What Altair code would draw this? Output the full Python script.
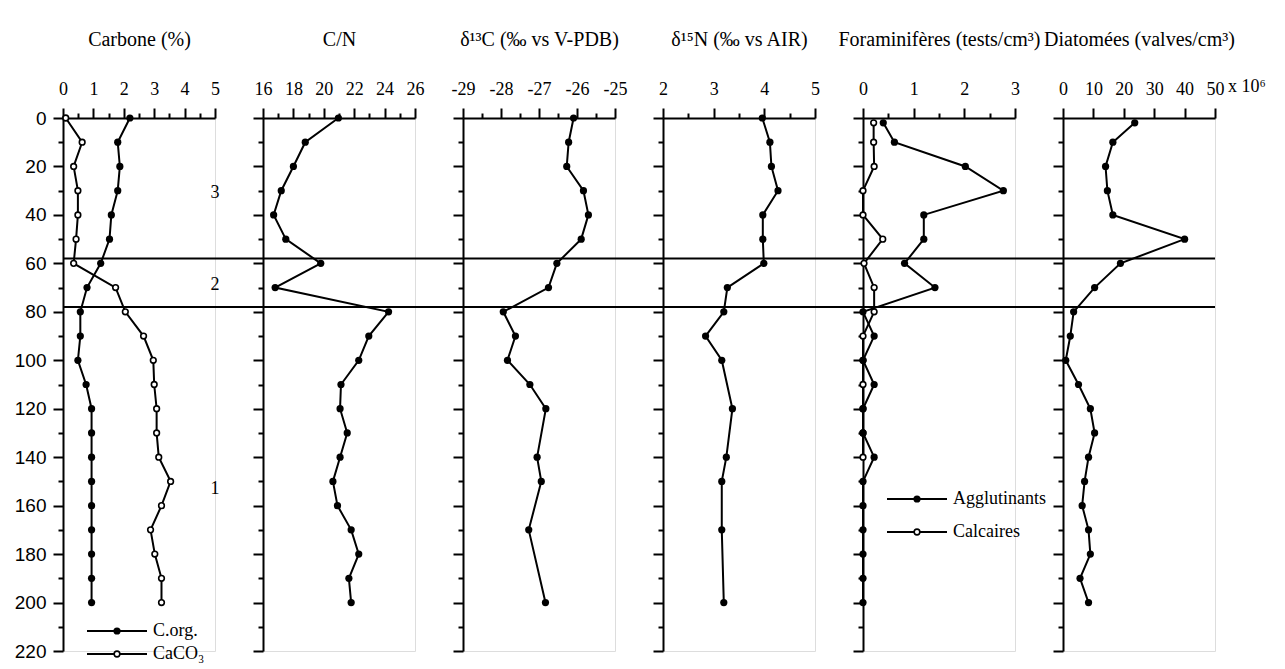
import altair as alt
import pandas as pd

# ---------------- data ----------------
depth = [0, 10, 20, 30, 40, 50, 60, 70, 80, 90, 100, 110, 120, 130, 140, 150, 160, 170, 180, 190, 200]
c_org = [2.2, 1.8, 1.87, 1.8, 1.59, 1.53, 1.24, 0.79, 0.57, 0.57, 0.49, 0.76, 0.94, 0.94, 0.94, 0.94, 0.94, 0.94, 0.94, 0.94, 0.94]
caco3 = [0.09, 0.63, 0.35, 0.49, 0.49, 0.43, 0.35, 1.73, 2.05, 2.65, 2.97, 3.0, 3.08, 3.08, 3.15, 3.54, 3.24, 2.88, 3.02, 3.24, 3.24]
cn_ratio = [20.96, 18.78, 18.0, 17.2, 16.7, 17.5, 19.8, 16.8, 24.26, 22.96, 22.3, 21.13, 21.07, 21.54, 21.07, 20.6, 20.9, 21.8, 22.3, 21.65, 21.8]

d13c_depth = [0, 10, 20, 30, 40, 50, 60, 70, 80, 90, 100, 110, 120, 140, 150, 170, 200]
d13c = [-26.09, -26.22, -26.27, -25.83, -25.70, -25.89, -26.53, -26.75, -27.94, -27.62, -27.83, -27.24, -26.82, -27.05, -26.94, -27.27, -26.83]

d15n_depth = [0, 10, 20, 30, 40, 50, 60, 70, 80, 90, 100, 120, 140, 150, 170, 200]
d15n = [3.96, 4.11, 4.14, 4.27, 3.97, 3.97, 3.99, 3.27, 3.20, 2.84, 3.16, 3.37, 3.25, 3.16, 3.16, 3.20]

foram_depth = [2, 10, 20, 30, 40, 50, 60, 70, 80, 90, 100, 110, 120, 130, 140, 150, 160, 170, 180, 190, 200]
agglutinants = [0.40, 0.62, 2.02, 2.77, 1.20, 1.20, 0.82, 1.42, 0.0, 0.22, 0.0, 0.22, 0.0, 0.0, 0.22, 0.0, 0.0, 0.0, 0.0, 0.0, 0.0]
calc_depth = [2, 10, 20, 30, 40, 50, 60, 70, 80, 90, 100, 110, 120, 130, 140]
calcaires = [0.21, 0.21, 0.22, 0.0, 0.0, 0.39, 0.02, 0.22, 0.22, 0.0, 0.0, 0.0, 0.0, 0.0, 0.0]

diatom_depth = [2, 10, 20, 30, 40, 50, 60, 70, 80, 90, 100, 110, 120, 130, 140, 150, 160, 170, 180, 190, 200]
diatoms = [23.6, 16.4, 14.0, 14.6, 16.4, 40.0, 18.9, 10.4, 3.5, 2.4, 0.9, 5.1, 9.0, 10.4, 8.4, 7.1, 6.3, 8.4, 9.0, 5.6, 8.4]

zone_limits = [58, 78]
zone_names = ["3", "2", "1"]
zone_label_depth = [31, 69, 153]

titles = ["Carbone (%)", "C/N", "δ¹³C (‰ vs V-PDB)", "δ¹⁵N (‰ vs AIR)",
          "Foraminifères (tests/cm³)", "Diatomées (valves/cm³)"]

# ---------------- layout / style ----------------
W, H, GAP = 152, 533, 48
SERIF = "Liberation Serif"
SANS = "Liberation Sans"

ysc = alt.Scale(domain=[0, 220], reverse=True, nice=False, zero=False)


def y_axis(show_labels):
    return alt.Axis(
        orient="left", values=list(range(0, 221, 10)),
        tickSize={"condition": {"test": "datum.value % 20 === 0", "value": 10}, "value": 5},
        tickWidth=2, tickColor="black", domainWidth=2, domainColor="black",
        grid=False, title=None, labels=show_labels, labelFont=SANS, labelFontSize=19,
        labelColor="black", labelPadding=7, labelOverlap=False,
        labelExpr="datum.value % 20 === 0 ? datum.label : ''")


def x_axis(title, values, major_test):
    return alt.Axis(
        orient="top", values=values, title=title,
        tickSize={"condition": {"test": major_test, "value": 10}, "value": 5},
        tickWidth=2, tickColor="black", domainWidth=2, domainColor="black",
        grid=False, labelFont=SERIF, labelFontSize=18, labelColor="black",
        labelPadding=10, labelFlush=False, labelOverlap=False, labelAngle=0,
        labelExpr="(" + major_test + ") ? '' + datum.value : ''",
        titleFont=SERIF, titleFontSize=20, titleFontWeight="normal",
        titleColor="black", titlePadding=31, titleLimit=400)


def series_layers(X, Y, d, v, filled):
    df = pd.DataFrame({"depth": d, "value": v})
    base = alt.Chart(df).encode(x=X, y=Y)
    line = base.mark_line(color="black", strokeWidth=2).encode(order="depth:Q")
    if filled:
        pts = base.mark_point(shape="circle", filled=True, color="black", size=52, opacity=1)
    else:
        pts = base.mark_point(shape="circle", filled=True, fill="white", stroke="black",
                              strokeWidth=1.6, size=32, opacity=1)
    return line, pts


def legend_entry(label, filled, ypix):
    base = alt.Chart(pd.DataFrame({"t": [label]}))
    ln = base.mark_rule(color="black", strokeWidth=2).encode(
        x=alt.value(24), x2=alt.value(84), y=alt.value(ypix))
    if filled:
        pt = base.mark_point(shape="circle", filled=True, color="black", size=52, opacity=1)
    else:
        pt = base.mark_point(shape="circle", filled=True, fill="white", stroke="black",
                             strokeWidth=1.6, size=32, opacity=1)
    pt = pt.encode(x=alt.value(54), y=alt.value(ypix))
    tx = base.mark_text(align="left", baseline="middle", font=SERIF, fontSize=18,
                        color="black").encode(x=alt.value(90), y=alt.value(ypix), text="t:N")
    return [ln, pt, tx]


def panel(idx, xdom, xvals, major_test, series, extra=None):
    xsc = alt.Scale(domain=xdom, nice=False, zero=False)
    X = alt.X("value:Q", scale=xsc, axis=x_axis(titles[idx], xvals, major_test))
    Y = alt.Y("depth:Q", scale=ysc, axis=y_axis(idx == 0))
    last = idx == 5
    zones = alt.Chart(pd.DataFrame({"depth": zone_limits})).mark_rule(
        color="black", strokeWidth=2).encode(
        y=Y, x=alt.value(0), x2=alt.value(W if last else W + GAP))
    lines, open_pts, full_pts = [], [], []
    for d, v, filled in series:
        ln, pt = series_layers(X, Y, d, v, filled)
        lines.append(ln)
        (full_pts if filled else open_pts).append(pt)
    layers = [zones] + lines + open_pts + full_pts
    if extra:
        layers += extra(X, Y)
    return alt.layer(*layers).properties(width=W, height=H)


def carbone_extra(X, Y):
    zl = alt.Chart(pd.DataFrame({"depth": zone_label_depth, "value": [5] * 3,
                                 "t": zone_names})).mark_text(
        font=SERIF, fontSize=18, color="black", align="center", baseline="middle").encode(
        x=X, y=Y, text="t:N")
    return [zl] + legend_entry("C.org.", True, 513) + legend_entry("CaCO₃", False, 536)


def foram_extra(X, Y):
    return legend_entry("Agglutinants", True, 381) + legend_entry("Calcaires", False, 414)


def diatom_extra(X, Y):
    t = alt.Chart(pd.DataFrame({"t": ["x 10⁶"]})).mark_text(
        font=SERIF, fontSize=18, color="black", align="left", baseline="middle").encode(
        x=alt.value(W + 13), y=alt.value(-31), text="t:N")
    return [t]


half = "datum.value % 1 === 0"
p1 = panel(0, [0, 5], [i * 0.5 for i in range(11)], half,
           [(depth, caco3, False), (depth, c_org, True)], carbone_extra)
p2 = panel(1, [16, 26], [16 + i for i in range(11)], "datum.value % 2 === 0",
           [(depth, cn_ratio, True)])
p3 = panel(2, [-29, -25], [-29 + i * 0.5 for i in range(9)], half,
           [(d13c_depth, d13c, True)])
p4 = panel(3, [2, 5], [2 + i * 0.5 for i in range(7)], half,
           [(d15n_depth, d15n, True)])
p5 = panel(4, [0, 3], [i * 0.5 for i in range(7)], half,
           [(calc_depth, calcaires, False), (foram_depth, agglutinants, True)], foram_extra)
p6 = panel(5, [0, 50], [i * 10 for i in range(6)], "datum.value % 10 === 0",
           [(diatom_depth, diatoms, True)], diatom_extra)

chart = alt.hconcat(p1, p2, p3, p4, p5, p6, spacing=GAP, bounds="flush").properties(
    padding={"left": 5, "top": 20, "right": 2, "bottom": 0}
).configure_view(stroke=None).configure(background="white")

chart.save("out.html", embed_options={"renderer": "svg", "actions": False})
